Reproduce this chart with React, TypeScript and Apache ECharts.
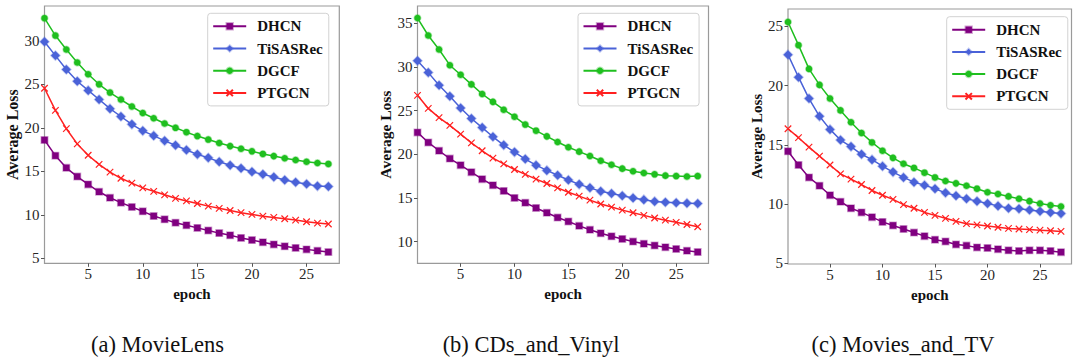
import React, { useEffect, useRef } from "react";
import * as echarts from "echarts";

const epochs = [1, 2, 3, 4, 5, 6, 7, 8, 9, 10, 11, 12, 13, 14, 15, 16, 17, 18, 19, 20, 21, 22, 23, 24, 25, 26, 27];
const methods = ["DHCN", "TiSASRec", "DGCF", "PTGCN"];
const xTicks = [5, 10, 15, 20, 25];
const yTicksA = [5, 10, 15, 20, 25, 30];
const yTicksB = [10, 15, 20, 25, 30, 35];
const yTicksC = [5, 10, 15, 20, 25];
const captions = ["(a) MovieLens", "(b) CDs_and_Vinyl", "(c) Movies_and_TV"];

// (a) MovieLens
const mlDHCN = [18.6, 16.8, 15.4, 14.4, 13.5, 12.65, 11.96, 11.4, 10.9, 10.4, 9.86, 9.48, 9.1, 8.8, 8.5, 8.2, 7.9, 7.65, 7.35, 7.1, 6.85, 6.6, 6.38, 6.2, 6.03, 5.87, 5.72];
const mlTiSASRec = [29.9, 28.3, 26.7, 25.35, 24.3, 23.25, 22.2, 21.3, 20.4, 19.65, 19.1, 18.5, 18.0, 17.45, 16.95, 16.55, 16.1, 15.7, 15.35, 14.95, 14.65, 14.35, 14.0, 13.75, 13.55, 13.3, 13.25];
const mlDGCF = [32.6, 30.6, 29.0, 27.5, 26.15, 25.0, 24.05, 23.25, 22.45, 21.7, 21.1, 20.5, 20.0, 19.5, 19.05, 18.65, 18.25, 17.9, 17.6, 17.3, 17.0, 16.75, 16.5, 16.3, 16.1, 15.95, 15.85];
const mlPTGCN = [24.55, 22.0, 19.9, 18.15, 16.85, 15.8, 14.9, 14.2, 13.65, 13.1, 12.7, 12.3, 11.9, 11.6, 11.3, 11.0, 10.75, 10.5, 10.25, 10.05, 9.85, 9.7, 9.55, 9.4, 9.2, 9.05, 8.95];

// (b) CDs_and_Vinyl
const cdDHCN = [22.5, 21.35, 20.4, 19.5, 18.75, 17.95, 17.15, 16.45, 15.8, 15.0, 14.45, 13.85, 13.3, 12.75, 12.3, 11.8, 11.35, 10.95, 10.6, 10.3, 10.0, 9.75, 9.55, 9.35, 9.15, 8.95, 8.8];
const cdTiSASRec = [30.7, 29.35, 27.9, 26.65, 25.3, 24.1, 23.05, 22.0, 21.05, 20.25, 19.45, 18.75, 18.15, 17.6, 17.05, 16.55, 16.15, 15.75, 15.5, 15.25, 15.0, 14.8, 14.6, 14.5, 14.45, 14.4, 14.35];
const cdDGCF = [35.6, 33.6, 32.0, 30.2, 29.1, 28.0, 26.9, 26.0, 25.1, 24.3, 23.4, 22.7, 22.05, 21.4, 20.8, 20.3, 19.8, 19.25, 18.8, 18.35, 18.05, 17.85, 17.7, 17.55, 17.5, 17.45, 17.5];
const cdPTGCN = [26.75, 25.25, 24.2, 23.3, 22.3, 21.3, 20.4, 19.55, 18.9, 18.25, 17.7, 17.15, 16.65, 16.15, 15.65, 15.2, 14.75, 14.3, 13.95, 13.6, 13.3, 13.0, 12.7, 12.45, 12.2, 11.95, 11.7];

// (c) Movies_and_TV
const mtDHCN = [14.45, 13.3, 12.25, 11.55, 10.75, 10.2, 9.65, 9.3, 8.9, 8.5, 8.2, 7.9, 7.6, 7.3, 7.0, 6.85, 6.6, 6.5, 6.35, 6.3, 6.2, 6.1, 6.05, 6.1, 6.1, 6.05, 5.95];
const mtTiSASRec = [22.6, 20.7, 18.9, 17.4, 16.3, 15.4, 14.85, 14.2, 13.75, 13.2, 12.7, 12.25, 11.85, 11.6, 11.3, 10.95, 10.7, 10.45, 10.25, 10.05, 9.85, 9.65, 9.6, 9.5, 9.4, 9.3, 9.2];
const mtDGCF = [25.35, 23.4, 21.4, 20.05, 18.9, 17.9, 16.9, 16.0, 15.2, 14.5, 13.9, 13.4, 13.05, 12.65, 12.25, 11.95, 11.75, 11.55, 11.3, 11.0, 10.85, 10.65, 10.45, 10.25, 10.05, 9.9, 9.8];
const mtPTGCN = [16.35, 15.6, 14.8, 14.05, 13.3, 12.55, 12.1, 11.65, 11.15, 10.75, 10.4, 9.95, 9.65, 9.3, 9.05, 8.8, 8.55, 8.35, 8.25, 8.15, 8.05, 7.95, 7.9, 7.85, 7.8, 7.75, 7.7];

const SERIF = "Liberation Serif";

const styles = [
  { color: "#800080", halo: "rgba(128,0,128,0.35)", symbol: "rect", size: 6.5 },
  { color: "#4a62d8", halo: "rgba(74,98,216,0.35)", symbol: "diamond", size: 9 },
  { color: "#1fbf1f", halo: "rgba(31,191,31,0.35)", symbol: "circle", size: 6.5 },
  { color: "#ff2020", halo: "rgba(255,32,32,0.35)", symbol: "path://M0,0L10,10M10,0L0,10", size: 6.5 },
];

const panels = [
  { data: [mlDHCN, mlTiSASRec, mlDGCF, mlPTGCN], yTicks: yTicksA, yMin: 4.43, yMax: 34.0,
    grid: { left: 44.5, top: 6, width: 294.8, height: 257.3 }, nameGap: 23.5, nameSize: 16,
    legend: { left: 207.7, top: 13.3 }, cap: 157.5 },
  { data: [cdDHCN, cdTiSASRec, cdDGCF, cdPTGCN], yTicks: yTicksB, yMin: 7.51, yMax: 36.98,
    grid: { left: 417.5, top: 6, width: 291, height: 257.3 }, nameGap: 23.5, nameSize: 15.5,
    legend: { left: 578, top: 13.3 }, cap: 531 },
  { data: [mtDHCN, mtTiSASRec, mtDGCF, mtPTGCN], yTicks: yTicksC, yMin: 4.95, yMax: 26.45,
    grid: { left: 788, top: 9, width: 283.5, height: 255 }, nameGap: 23, nameSize: 15,
    legend: { left: 946.7, top: 16.7 }, cap: 903 },
];

export default function App() {
  const ref = useRef<HTMLDivElement>(null);
  useEffect(() => {
    if (!ref.current) return;
    const chart = echarts.init(ref.current, undefined, { renderer: "svg" });
    const grids: any[] = [];
    const xAxes: any[] = [];
    const yAxes: any[] = [];
    const legends: any[] = [];
    const series: any[] = [];
    const graphics: any[] = [];
    panels.forEach((p, pi) => {
      grids.push({ ...p.grid, show: true, borderColor: "#9a9a9a", borderWidth: 1.2, backgroundColor: "transparent" });
      xAxes.push({
        type: "value", gridIndex: pi, min: 1, max: 28,
        name: "epoch", nameLocation: "middle", nameGap: 15.5,
        nameTextStyle: { fontFamily: SERIF, fontWeight: "bold", fontSize: 15, color: "#111" },
        axisLine: { show: false },
        axisTick: { show: true, length: 3.5, customValues: xTicks, lineStyle: { color: "#555", width: 1 } },
        axisLabel: { customValues: xTicks, margin: 3.5, fontFamily: SERIF, fontSize: 15, color: "#262626" },
        splitLine: { show: false },
      });
      yAxes.push({
        type: "value", gridIndex: pi, min: p.yMin, max: p.yMax,
        name: "Average Loss", nameLocation: "middle", nameGap: p.nameGap,
        nameTextStyle: { fontFamily: SERIF, fontWeight: "bold", fontSize: p.nameSize, color: "#111" },
        axisLine: { show: false },
        axisTick: { show: true, length: 3.5, customValues: p.yTicks, lineStyle: { color: "#555", width: 1 } },
        axisLabel: { customValues: p.yTicks, margin: 5, fontFamily: SERIF, fontSize: 15, color: "#262626" },
        splitLine: { show: false },
      });
      legends.push({
        data: methods, orient: "vertical", left: p.legend.left, top: p.legend.top,
        itemWidth: 33, itemHeight: 8, itemGap: 6.2,
        padding: [5, 6, 5, 4.5],
        backgroundColor: "rgba(255,255,255,0.85)", borderColor: "#d2d2d2", borderWidth: 1, borderRadius: 3,
        textStyle: { fontFamily: SERIF, fontWeight: "bold", fontSize: 15, color: "#111", lineHeight: 16, padding: [0, 0, 0, 6] },
      });
      p.data.forEach((vals, si) => {
        const st = styles[si];
        series.push({
          type: "line", name: methods[si], xAxisIndex: pi, yAxisIndex: pi,
          data: epochs.map((e, i) => [e, vals[i]]),
          symbol: st.symbol, symbolSize: st.size, showSymbol: true,
          color: st.color,
          lineStyle: { color: st.color, width: 1.5 },
          itemStyle: si === 3
            ? { color: st.color, borderColor: st.color, borderWidth: 1.2 }
            : { color: st.color, borderColor: st.halo, borderWidth: 1.5 },
          z: 2 + si,
        });
      });
      graphics.push({
        type: "text", x: p.cap, y: 344.5,
        style: { text: captions[pi], fontFamily: SERIF, fontSize: 22.5, fill: "#111", textAlign: "center", textVerticalAlign: "middle" },
      });
    });
    chart.setOption({
      animation: false,
      backgroundColor: "#fff",
      grid: grids, xAxis: xAxes, yAxis: yAxes, legend: legends, series, graphic: graphics,
    });
    return () => chart.dispose();
  }, []);
  return <div ref={ref} style={{ position: "fixed", left: 0, top: 0, width: 1073, height: 358 }} />;
}
